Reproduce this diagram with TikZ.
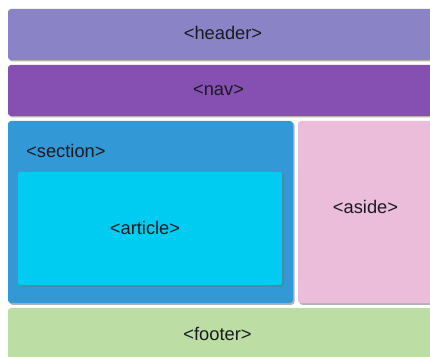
\documentclass[tikz,border=0pt]{standalone}
\usepackage{fontspec}
\setmainfont{Liberation Sans}
\definecolor{hdr}{HTML}{8A83C5}
\definecolor{navc}{HTML}{864FB2}
\definecolor{secc}{HTML}{3398D6}
\definecolor{artc}{HTML}{00CCF2}
\definecolor{asdc}{HTML}{EBBDDB}
\definecolor{ftrc}{HTML}{BCDEA5}
\definecolor{txtc}{HTML}{1A1A22}
\begin{document}
\begin{tikzpicture}[x=1pt,y=1pt,
  box/.style={draw=none, rounded corners=3pt},
  shade/.style={fill=black!55, opacity=0.55, rounded corners=3pt},
  lbl/.style={text=txtc, font=\fontsize{18.3}{20}\selectfont, inner sep=0pt}]
\useasboundingbox (0,0) rectangle (430,356);
\clip (0,0) rectangle (430,356);
\fill[white] (0,0) rectangle (430,356);
% shadows
\fill[shade] (9.5,294.5) rectangle (440,345.5);
\fill[shade] (9.5,238.5) rectangle (440,289.5);
\fill[shade] (9.5,51.2) rectangle (294.5,233.5);
\fill[shade] (299.5,51.2) rectangle (440,233.5);
% boxes
\fill[box, fill=hdr] (8,296) coordinate (h1) rectangle (440,347) coordinate (h2);
\fill[box, fill=navc] (8,240) rectangle (440,291);
\fill[box, fill=secc] (8,53) rectangle (293,235);
\fill[box, fill=asdc] (298,53) rectangle (440,235);
\fill[shade] (19.5,69.3) rectangle (284,183);
\fill[box, fill=artc, rounded corners=2pt] (18,71) rectangle (282,184);
\fill[box, fill=ftrc] (8,-6) rectangle (440,48);
% labels
\node[lbl] (header) at (223,323) {<header>};
\node[lbl] (nav) at (218.5,266) {<nav>};
\node[lbl, anchor=west] (section) at (26,205) {<section>};
\node[lbl] (article) at (145,128.5) {<article>};
\node[lbl] (aside) at (365.5,149) {<aside>};
\node[lbl] (footer) at (217.5,22) {<footer>};
\end{tikzpicture}
\end{document}
